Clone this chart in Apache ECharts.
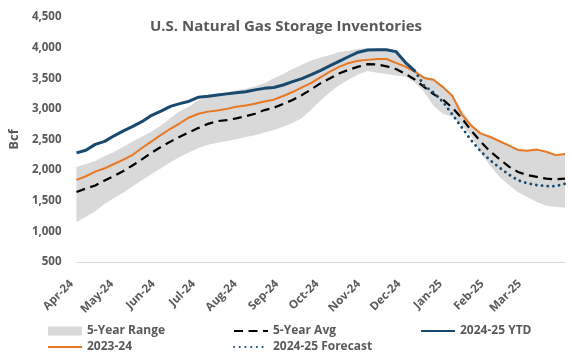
<!DOCTYPE html>
<html><head><meta charset="utf-8">
<script src="https://cdn.jsdelivr.net/npm/echarts@6/dist/echarts.min.js"></script>
<style>html,body{margin:0;padding:0;background:#fff}#c{width:572px;height:354px}</style>
</head><body><div id="c"></div>
<script>
// Weekly points: 53 weeks starting 2024-04-01
const firstWeek = [2024, 3, 1];
const weekCount = 53;
const monthLabels = ['Apr-24','May-24','Jun-24','Jul-24','Aug-24','Sep-24','Oct-24','Nov-24','Dec-24','Jan-25','Feb-25','Mar-25'];

const rangeMin = [1150,1240,1330,1445,1545,1635,1735,1840,1935,2030,
  2130,2215,2290,2360,2415,2445,2475,2505,2540,2570,
  2615,2655,2710,2770,2850,2990,3140,3270,3390,3480,
  3560,3620,3590,3570,3545,3525,3430,3280,3050,2920,
  2870,2740,2560,2290,2080,1890,1760,1640,1560,1480,
  1420,1400,1390];
const rangeMax = [2050,2100,2150,2230,2295,2380,2470,2550,2630,2730,
  2850,2960,3040,3140,3190,3235,3270,3300,3330,3365,
  3420,3500,3570,3650,3720,3790,3840,3880,3930,3950,
  3980,3990,3985,3975,3940,3790,3650,3530,3490,3380,
  3240,2980,2770,2605,2550,2480,2410,2335,2320,2340,
  2305,2250,2270];
const avg5 = [1643,1700,1750,1830,1905,1985,2080,2180,2285,2380,
  2465,2545,2620,2690,2755,2800,2815,2845,2880,2920,
  2980,3018,3080,3145,3226,3320,3420,3500,3580,3640,
  3690,3730,3725,3695,3650,3575,3480,3360,3240,3150,
  3020,2850,2650,2470,2310,2185,2060,1970,1918,1890,
  1860,1850,1860];
const season2023_24 = [1840,1900,1975,2030,2100,2170,2250,2365,2470,2575,
  2675,2765,2860,2920,2955,2975,3000,3035,3055,3085,
  3120,3150,3210,3275,3350,3425,3520,3610,3690,3750,
  3785,3800,3815,3815,3750,3690,3610,3505,3475,3355,
  3215,2910,2730,2600,2545,2475,2405,2330,2315,2335,
  2300,2245,2265];
const ytd2024_25 = [2281,2325,2420,2470,2560,2640,2715,2795,2895,2964,
  3040,3085,3125,3190,3205,3225,3245,3265,3280,3310,
  3335,3350,3390,3445,3495,3560,3630,3705,3780,3855,
  3925,3960,3965,3965,3935,3760,3620];
const forecast2024_25 = [3620,3380,3270,3115,2910,2700,2490,2310,2165,2045,1930,1835,1785,1755,1738,1738,1778];

const weeks = [];
for (let i = 0; i < weekCount; i++) weeks.push(+new Date(firstWeek[0], firstWeek[1], firstWeek[2] + 7 * i));
const monthStarts = monthLabels.map((m, k) => +new Date(2024, 3 + k, 1));
const pair = (vals, offset) => vals.map((v, i) => [weeks[i + offset], v]);
const forecastStart = ytd2024_25.length - 1;

const FONT = "'Open Sans', sans-serif";
const GREY = '#595959';
const BLUE = '#184a70';
const ORANGE = '#e87722';
const BAND = '#d9d9d9';
const chart = echarts.init(document.getElementById('c'));
const legendBase = {
  orient: 'vertical', top: 319, height: 60, itemWidth: 34, itemHeight: 9, itemGap: 2,
  textStyle: { fontFamily: FONT, fontWeight: 'bold', fontSize: 12, color: GREY, lineHeight: 14 },
  itemStyle: { opacity: 0 },
  selectedMode: false
};
chart.setOption({
  animation: false,
  title: {
    text: 'U.S. Natural Gas Storage Inventories', left: 'center', top: 14,
    textStyle: { fontFamily: FONT, fontWeight: 'bold', fontSize: 15, color: GREY }
  },
  legend: [
    Object.assign({}, legendBase, { left: 42, data: [{ name: '5-Year Range', icon: 'rect', itemStyle: { color: BAND, opacity: 1 } }, '2023-24'] }),
    Object.assign({}, legendBase, { left: 228, data: ['5-Year Avg', '2024-25 Forecast'] }),
    Object.assign({}, legendBase, { left: 415, data: ['2024-25 YTD'] })
  ],
  grid: { left: 68, right: 7, top: 17, bottom: 92 },
  xAxis: {
    type: 'value', min: weeks[0], max: weeks[weeks.length - 1],
    axisLine: { lineStyle: { color: '#d9d9d9', width: 1 } },
    axisTick: { show: false },
    splitLine: { show: false },
    axisLabel: {
      customValues: monthStarts, rotate: 45, margin: 15, padding: [0, 7, 0, 0],
      fontFamily: FONT, fontWeight: 'bold', fontSize: 11.5, color: GREY,
      formatter: function (v) {
        const d = new Date(v);
        return monthLabels[(d.getFullYear() - 2024) * 12 + d.getMonth() - 3];
      }
    }
  },
  yAxis: {
    type: 'value', min: 500, max: 4500, interval: 500,
    name: 'Bcf', nameLocation: 'middle', nameGap: 54, nameRotate: 90,
    nameTextStyle: { fontFamily: FONT, fontWeight: 'bold', fontSize: 13, color: GREY },
    axisLine: { show: false }, axisTick: { show: false }, splitLine: { show: false },
    axisLabel: {
      margin: 15, fontFamily: FONT, fontWeight: 'bold', fontSize: 11.5, color: GREY,
      formatter: v => v.toLocaleString('en-US')
    }
  },
  series: [
    { name: '5-Year Range', type: 'custom', silent: true, z: 1,
      itemStyle: { color: BAND },
      encode: { x: 0, y: [1, 2] },
      data: weeks.map((w, i) => [w, rangeMin[i], rangeMax[i]]),
      renderItem: function (params, api) {
        if (params.dataIndex !== 0) return null;
        const pts = [];
        for (let i = 0; i < weeks.length; i++) pts.push(api.coord([weeks[i], rangeMax[i]]));
        for (let i = weeks.length - 1; i >= 0; i--) pts.push(api.coord([weeks[i], rangeMin[i]]));
        return { type: 'polygon', shape: { points: pts }, style: { fill: BAND } };
      }
    },
    { name: '2023-24', type: 'line', symbol: 'none', color: ORANGE,
      lineStyle: { width: 2, color: ORANGE }, data: pair(season2023_24, 0), z: 3 },
    { name: '5-Year Avg', type: 'line', symbol: 'none', color: '#000000',
      lineStyle: { width: 2.2, color: '#000000', type: [9, 5.5] }, data: pair(avg5, 0), z: 4 },
    { name: '2024-25 Forecast', type: 'line', symbol: 'none', color: BLUE,
      lineStyle: { width: 2.8, color: BLUE, type: [0.1, 5.6], cap: 'round' },
      data: pair(forecast2024_25, forecastStart), z: 5 },
    { name: '2024-25 YTD', type: 'line', symbol: 'none', color: BLUE,
      lineStyle: { width: 3, color: BLUE }, data: pair(ytd2024_25, 0), z: 6 }
  ]
});
</script></body></html>
